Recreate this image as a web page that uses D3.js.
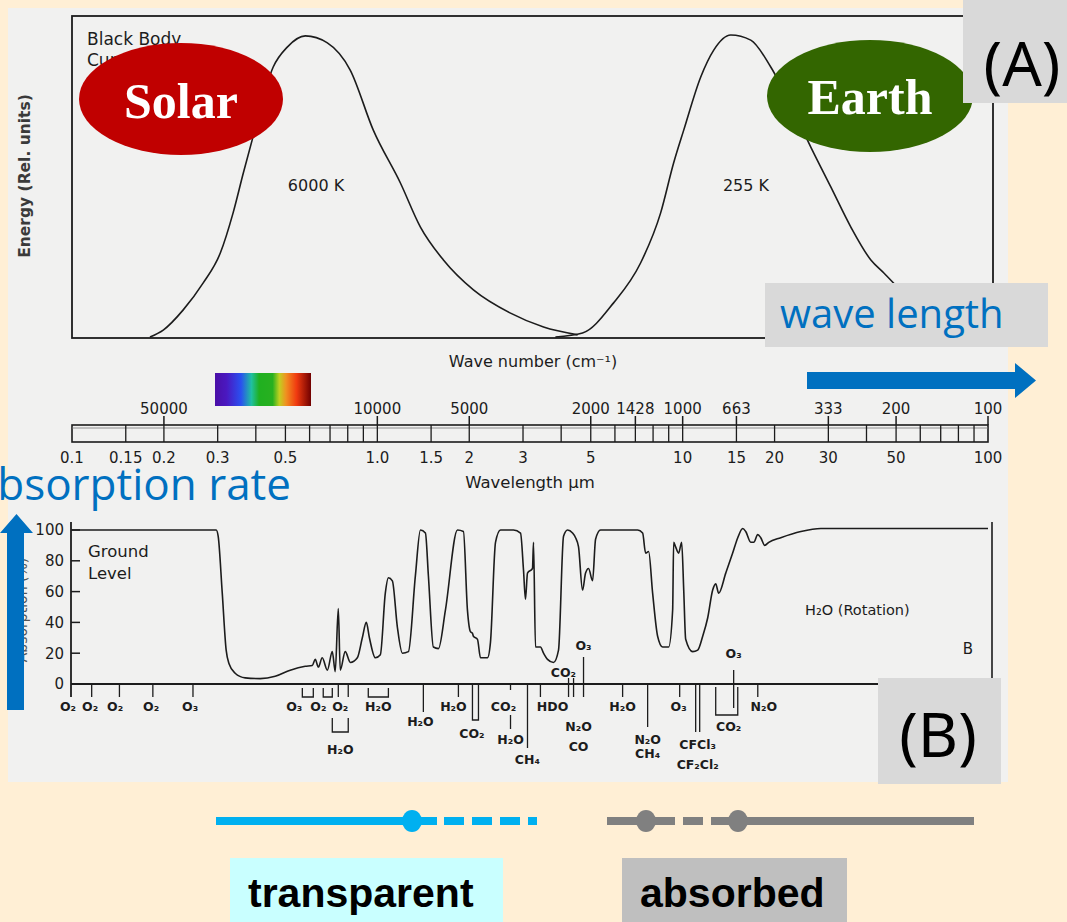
<!DOCTYPE html>
<html><head><meta charset="utf-8">
<script src="https://cdn.jsdelivr.net/npm/d3@7"></script>
<style>body{margin:0;background:#FFEFD5;}svg{display:block}</style>
</head><body>
<svg id="c" width="1067" height="922"></svg>
<script>
// ---------------- DATA ----------------
// Wavelength scale (micrometres)
const wlTicks = [0.1,0.15,0.2,0.3,0.5,1.0,1.5,2,3,5,10,15,20,30,50,100];
const wlTickLabels = ["0.1","0.15","0.2","0.3","0.5","1.0","1.5","2","3","5","10","15","20","30","50","100"];
const wlDividers = [0.15,0.2,0.3,0.4,0.5,0.6,0.7,0.8,0.9,1,1.5,2,3,4,5,6,7,8,9,10,15,20,30,40,50,60,70,80,90];
// Wave number labels (cm-1) and the wavelengths they sit at
const wnLabels = ["50000","10000","5000","2000","1428","1000","663","333","200","100"];
const wnWl = [0.2,1,2,5,7,10,15,30,50,100];
// Black body curves (relative energy)
const solarWl = [0.180,0.199,0.231,0.269,0.306,0.337,0.364,0.389,0.456,0.507,0.581,0.686,0.815,0.970,1.190,1.384,1.646,2.064,2.730,3.502,4.53];
const solarEnergy = [0,2.3,8.9,17.9,27.8,41.1,54.3,65.2,89.4,96,99.7,97.4,88.4,68.5,51,36.4,25.5,15.6,7.9,3.3,0.7];
const earthWl = [3.83,4.70,5.94,7.28,8.47,9.34,10.08,11.46,12.64,14.37,16.71,19.43,22.61,26.28,30.56,35.55,41.34,45.6,55.9,75.6,100];
const earthEnergy = [0,1.3,11.3,24.5,41.1,57.6,68.5,86.1,95,100,98.3,89.4,76.8,62.9,49.7,36.4,25.5,21.2,12.3,5.6,2.3];
// Atmospheric absorption at ground level (%)
const absWl = [0.1,0.2966,0.3011,0.3103,0.3198,0.3271,0.3422,0.3692,0.4134,0.463,0.5185,0.5806,0.612,
 0.626,0.641,0.660,0.686,0.712,0.728,0.745,0.756,0.785,0.816,0.860,0.893,0.920,0.942,0.985,1.023,1.062,1.087,1.120,1.163,1.208,1.264,1.332,1.384,1.437,1.470,1.526,1.585,1.671,1.830,1.914,1.973,2.018,2.049,2.064,2.128,2.177,2.295,2.347,2.438,2.532,2.792,2.944,3.011,3.056,3.103,3.222,3.247,3.296,3.421,3.502,3.609,3.776,3.921,4.072,4.198,4.359,4.459,4.560,4.699,4.808,4.918,5.069,5.185,5.384,7.120,7.394,7.563,7.736,7.973,8.279,8.598,8.996,9.272,9.343,9.484,9.702,9.924,10.08,10.23,10.78,11.20,11.63,12.08,12.54,12.83,13.12,13.84,14.58,15.15,15.73,16.09,16.71,17.09,17.62,18.02,18.57,19.14,20.96,24.38,28.35,33.73,100];
const absPct = [100,100,96,60,22,13,7,4,3.5,5,9,11.5,12,
 16,11,17,9,21,8,49,9,21,14,17,30,40,30,17,19,59,69,67,37,20,21,70,100,98,70,24,23,48,100,99,48,34,33,31,29,17,17,27,92,100,100,98,74,55,72,75,92,24,24,20,16,14,22,96,100,98,95,89,61,72,75,67,94,100,100,98,85,86,59,31,24,24,48,92,89,85,92,61,29,21,22,31,43,61,65,59,72,85,95,101,99,92,92,97,95,90,92,95,99,101,101,101];
const absTicks = [0,20,40,60,80,100];
// Absorbing gases: label, wavelength of label centre, label tier
const gasLabels = [
 ["O₂",0.097,"b0"],["O₂",0.1146,"b0"],["O₂",0.1384,"b0"],["O₂",0.1816,"b0"],["O₃",0.2437,"b0"],
 ["O₃",0.5345,"b0"],["O₂",0.641,"b0"],["O₂",0.756,"b0"],["H₂O",0.756,"b7"],["H₂O",1.008,"b0"],
 ["H₂O",1.384,"b1"],["H₂O",1.775,"b0"],["CO₂",2.04,"b3"],["CO₂",2.589,"b0"],["H₂O",2.73,"b4"],
 ["CH₄",3.10,"b9"],["HDO",3.75,"b0"],["CO₂",4.07,"a0"],["O₃",4.735,"a1"],["N₂O",4.56,"b2"],["CO",4.56,"b6"],
 ["H₂O",6.36,"b0"],["N₂O",7.68,"b4"],["CH₄",7.68,"b8"],["O₃",9.70,"b0"],["CFCl₃",11.2,"b5"],["CF₂Cl₂",11.2,"b10"],
 ["CO₂",14.15,"b2"],["O₃",14.69,"a2"],["N₂O",18.43,"b0"]];
// Band marks: wavelength and mark kind
const gasTicks = [[0.116,"s"],[0.143,"s"],[0.184,"s"],[0.249,"s"],[0.745,"s"],[0.803,"s"],[1.415,"L1"],[1.843,"s"],
 [2.73,"c"],[3.103,"L2"],[3.421,"s"],[4.229,"x"],[4.392,"x"],[4.735,"o"],[6.358,"s"],[7.678,"L3"],[9.777,"s"],
 [11.03,"L4"],[11.37,"L4"],[14.69,"o2"],[17.62,"s"]];
const gasBrackets = [[0.568,0.617,"u"],[0.665,0.712,"u"],[0.934,1.087,"u"],[0.712,0.803,"ul"],[2.049,2.144,"ud"],[12.83,15.15,"ub"]];

// ---------------- DRAW ----------------
const SCAN = "'DejaVu Sans', Verdana, sans-serif";
const INK = "#1c1c1c";
const svg = d3.select("#c");
const defs = svg.append("defs");

svg.append("rect").attr("width",1067).attr("height",922).attr("fill","#FFEFD5");
svg.append("rect").attr("x",8).attr("y",8).attr("width",1000).attr("height",774).attr("fill","#F1F1F0");

const x = d3.scaleLog().domain([0.1,100]).range([72,988]);
const yTop = d3.scaleLinear().domain([0,100]).range([337,35]);
const yAbs = d3.scaleLinear().domain([0,100]).range([684,530]);

// ---- Panel A: black body curves
const gA = svg.append("g");
gA.append("rect").attr("x",72).attr("y",16).attr("width",921).attr("height",322)
  .attr("fill","none").attr("stroke",INK).attr("stroke-width",1.8);
const bbLine = d3.line().x(d=>x(d[0])).y(d=>yTop(d[1])).curve(d3.curveMonotoneX);
gA.append("path").attr("d",bbLine(d3.zip(solarWl,solarEnergy))).attr("fill","none").attr("stroke",INK).attr("stroke-width",1.6);
gA.append("path").attr("d",bbLine(d3.zip(earthWl,earthEnergy))).attr("fill","none").attr("stroke",INK).attr("stroke-width",1.6);
gA.append("text").attr("x",87).attr("y",45).text("Black Body").attr("font-family",SCAN).attr("font-size",17).attr("fill",INK);
gA.append("text").attr("x",87).attr("y",66).text("Curves").attr("font-family",SCAN).attr("font-size",17).attr("fill",INK);
gA.append("text").attr("x",316).attr("y",191).attr("text-anchor","middle").text("6000 K").attr("font-family",SCAN).attr("font-size",16).attr("fill",INK);
gA.append("text").attr("x",746).attr("y",191).attr("text-anchor","middle").text("255 K").attr("font-family",SCAN).attr("font-size",16).attr("fill",INK);
gA.append("text").attr("transform","translate(30,176) rotate(-90)").attr("text-anchor","middle")
  .text("Energy (Rel. units)").attr("font-family",SCAN).attr("font-size",15.5).attr("font-weight","bold").attr("fill","#3a3a3a");
gA.append("text").attr("x",533).attr("y",367).attr("text-anchor","middle").text("Wave number (cm⁻¹)")
  .attr("font-family",SCAN).attr("font-size",16).attr("fill",INK);

// ---- Scale bar
const gS = svg.append("g");
gS.append("rect").attr("x",x(0.1)).attr("y",425).attr("width",x(100)-x(0.1)).attr("height",17)
  .attr("fill","none").attr("stroke",INK).attr("stroke-width",1.6);
gS.append("line").attr("x1",x(0.1)).attr("x2",x(100)).attr("y1",428).attr("y2",428).attr("stroke","#777").attr("stroke-width",0.8);
gS.selectAll("line.div").data(wlDividers).join("line").attr("class","div")
  .attr("x1",d=>x(d)).attr("x2",d=>x(d)).attr("y1",425).attr("y2",442).attr("stroke",INK).attr("stroke-width",1.3);
gS.selectAll("line.maj").data(wnWl).join("line").attr("class","maj")
  .attr("x1",d=>x(d)).attr("x2",d=>x(d)).attr("y1",416).attr("y2",425).attr("stroke",INK).attr("stroke-width",1.5);
gS.selectAll("text.wn").data(wnLabels).join("text").attr("class","wn")
  .attr("x",(d,i)=>x(wnWl[i])).attr("y",414).attr("text-anchor","middle").text(d=>d)
  .attr("font-family",SCAN).attr("font-size",15).attr("fill",INK);
gS.selectAll("text.wl").data(wlTickLabels).join("text").attr("class","wl")
  .attr("x",(d,i)=>x(wlTicks[i])).attr("y",463).attr("text-anchor","middle").text(d=>d)
  .attr("font-family",SCAN).attr("font-size",15).attr("fill",INK);
gS.append("text").attr("x",530).attr("y",488).attr("text-anchor","middle").text("Wavelength μm")
  .attr("font-family",SCAN).attr("font-size",16.5).attr("fill",INK);

// spectrum strip
const grad = defs.append("linearGradient").attr("id","spec");
[[0,"#4a0fa6"],[0.12,"#4a18c0"],[0.27,"#2a50f0"],[0.38,"#20c0a0"],[0.46,"#20b020"],[0.6,"#28b020"],[0.67,"#c0d020"],[0.74,"#f09020"],[0.85,"#f03a10"],[1,"#700000"]]
  .forEach(s=>grad.append("stop").attr("offset",s[0]).attr("stop-color",s[1]));
svg.append("rect").attr("x",215).attr("y",373).attr("width",96).attr("height",33).attr("fill","url(#spec)");

// ---- Panel B: absorption
const gB = svg.append("g");
gB.append("text").attr("transform","translate(27,610) rotate(-90)").attr("text-anchor","middle")
  .text("Absorption (%)").attr("font-family",SCAN).attr("font-size",14).attr("fill","#555");
gB.append("line").attr("x1",71).attr("x2",71).attr("y1",522).attr("y2",697).attr("stroke",INK).attr("stroke-width",1.8);
gB.append("line").attr("x1",992).attr("x2",992).attr("y1",522).attr("y2",684).attr("stroke",INK).attr("stroke-width",1.6);
gB.append("line").attr("x1",71).attr("x2",992).attr("y1",684).attr("y2",684).attr("stroke",INK).attr("stroke-width",1.8);
gB.selectAll("line.yt").data(absTicks).join("line").attr("class","yt")
  .attr("x1",71).attr("x2",80).attr("y1",d=>yAbs(d)).attr("y2",d=>yAbs(d)).attr("stroke",INK).attr("stroke-width",1.5);
gB.selectAll("text.yt").data(absTicks).join("text").attr("class","yt")
  .attr("x",64).attr("y",d=>yAbs(d)).attr("dy","0.36em").attr("text-anchor","end").text(d=>d)
  .attr("font-family",SCAN).attr("font-size",15).attr("fill",INK);
const absLine = d3.line().x(d=>x(d[0])).y(d=>yAbs(d[1])).curve(d3.curveMonotoneX);
gB.append("path").attr("d",absLine(d3.zip(absWl,absPct))).attr("fill","none").attr("stroke",INK).attr("stroke-width",1.6);
gB.append("text").attr("x",88).attr("y",557).text("Ground").attr("font-family",SCAN).attr("font-size",16.5).attr("fill",INK);
gB.append("text").attr("x",88).attr("y",579).text("Level").attr("font-family",SCAN).attr("font-size",16.5).attr("fill",INK);
gB.append("text").attr("x",805).attr("y",615).text("H₂O (Rotation)").attr("font-family",SCAN).attr("font-size",14.5).attr("fill",INK);
gB.append("text").attr("x",968).attr("y",654).attr("text-anchor","middle").text("B").attr("font-family",SCAN).attr("font-size",15).attr("fill",INK);

// gas marks
const tickSpan = {s:[684,697],L1:[684,712],L2:[684,748],L3:[684,727],L4:[684,732],x:[678,697],o:[657,697],o2:[670,708]};
gasTicks.forEach(([w,k])=>{
  if(k==="c"){
    gB.append("line").attr("x1",x(w)).attr("x2",x(w)).attr("y1",684).attr("y2",690).attr("stroke",INK).attr("stroke-width",1.3);
    gB.append("line").attr("x1",x(w)).attr("x2",x(w)).attr("y1",715).attr("y2",729).attr("stroke",INK).attr("stroke-width",1.3);
  } else {
    const s = tickSpan[k];
    gB.append("line").attr("x1",x(w)).attr("x2",x(w)).attr("y1",s[0]).attr("y2",s[1]).attr("stroke",INK).attr("stroke-width",1.3);
  }
});
const brSpan = {u:[688,697],ul:[718,732],ud:[684,720],ub:[687,715]};
gasBrackets.forEach(([a,b,k])=>{
  const s = brSpan[k];
  gB.append("path").attr("d",`M${x(a)},${s[0]}V${s[1]}H${x(b)}V${s[0]}`).attr("fill","none").attr("stroke",INK).attr("stroke-width",1.3);
});
const tierY = {a2:658,a1:650,a0:677,b0:711,b1:726,b2:731,b3:738,b4:744,b5:749,b6:751,b7:754,b8:758,b9:764,b10:769};
gB.selectAll("text.gas").data(gasLabels).join("text").attr("class","gas")
  .attr("x",d=>x(d[1])).attr("y",d=>tierY[d[2]]).attr("text-anchor","middle").text(d=>d[0])
  .attr("font-family",SCAN).attr("font-size",12.5).attr("font-weight","bold").attr("fill",INK);

// ---- Overlays
svg.append("ellipse").attr("cx",181).attr("cy",99).attr("rx",102).attr("ry",56).attr("fill","#C00000");
svg.append("text").attr("x",181).attr("y",118).attr("text-anchor","middle").text("Solar")
  .attr("font-family","'Liberation Serif','Times New Roman',serif").attr("font-weight","bold").attr("font-size",50).attr("fill","#fff");
svg.append("ellipse").attr("cx",870).attr("cy",96).attr("rx",103).attr("ry",56).attr("fill","#336600");
svg.append("text").attr("x",870).attr("y",114).attr("text-anchor","middle").text("Earth")
  .attr("font-family","'Liberation Serif','Times New Roman',serif").attr("font-weight","bold").attr("font-size",50).attr("fill","#fff");
svg.append("rect").attr("x",963).attr("y",0).attr("width",104).attr("height",103).attr("fill","#D9D9D9");
svg.append("text").attr("x",1022).attr("y",86).attr("text-anchor","middle").text("(A)")
  .attr("font-family","'Noto Sans','Open Sans',sans-serif").attr("font-size",62).attr("fill","#000");
svg.append("rect").attr("x",765).attr("y",283).attr("width",283).attr("height",64).attr("fill","#D9D9D9");
svg.append("text").attr("x",780).attr("y",328).text("wave length")
  .attr("font-family","'Open Sans','Noto Sans',sans-serif").attr("font-size",40).attr("fill","#0070C0");
svg.append("path").attr("d","M807,372H1015V363L1036,380.5L1015,398V389H807Z").attr("fill","#0070C0");
svg.append("text").attr("x",291).attr("y",500).attr("text-anchor","end").text("Absorption rate")
  .attr("font-family","'Open Sans','Noto Sans',sans-serif").attr("font-size",44).attr("fill","#0070C0");
svg.append("path").attr("d","M7,710V533H0L16.5,514L33,533H24V710Z").attr("fill","#0070C0");
svg.append("rect").attr("x",878).attr("y",678).attr("width",123).attr("height",106).attr("fill","#D9D9D9");
svg.append("text").attr("x",938).attr("y",757).attr("text-anchor","middle").text("(B)")
  .attr("font-family","'Noto Sans','Open Sans',sans-serif").attr("font-size",62).attr("fill","#000");

// ---- Legend
const lg = svg.append("g");
lg.append("line").attr("x1",216).attr("x2",437).attr("y1",821).attr("y2",821).attr("stroke","#00B0F0").attr("stroke-width",8);
lg.append("line").attr("x1",444).attr("x2",537).attr("y1",821).attr("y2",821).attr("stroke","#00B0F0").attr("stroke-width",8).attr("stroke-dasharray","20,8");
lg.append("ellipse").attr("cx",412).attr("cy",821).attr("rx",10).attr("ry",11).attr("fill","#00B0F0");
lg.append("line").attr("x1",607).attr("x2",675).attr("y1",821).attr("y2",821).attr("stroke","#808080").attr("stroke-width",8);
lg.append("line").attr("x1",683).attr("x2",703).attr("y1",821).attr("y2",821).attr("stroke","#808080").attr("stroke-width",8);
lg.append("line").attr("x1",711).attr("x2",974).attr("y1",821).attr("y2",821).attr("stroke","#808080").attr("stroke-width",8);
lg.append("ellipse").attr("cx",646).attr("cy",821).attr("rx",10).attr("ry",11).attr("fill","#808080");
lg.append("ellipse").attr("cx",738).attr("cy",821).attr("rx",10).attr("ry",11).attr("fill","#808080");
lg.append("rect").attr("x",230).attr("y",858).attr("width",273).attr("height",64).attr("fill","#C9FFFF");
lg.append("text").attr("x",248).attr("y",907).text("transparent")
  .attr("font-family","'Liberation Sans',Arial,sans-serif").attr("font-weight","bold").attr("font-size",41).attr("fill","#000");
lg.append("rect").attr("x",622).attr("y",858).attr("width",225).attr("height",64).attr("fill","#BFBFBF");
lg.append("text").attr("x",640).attr("y",907).text("absorbed")
  .attr("font-family","'Liberation Sans',Arial,sans-serif").attr("font-weight","bold").attr("font-size",41).attr("fill","#000");
</script>
</body></html>
